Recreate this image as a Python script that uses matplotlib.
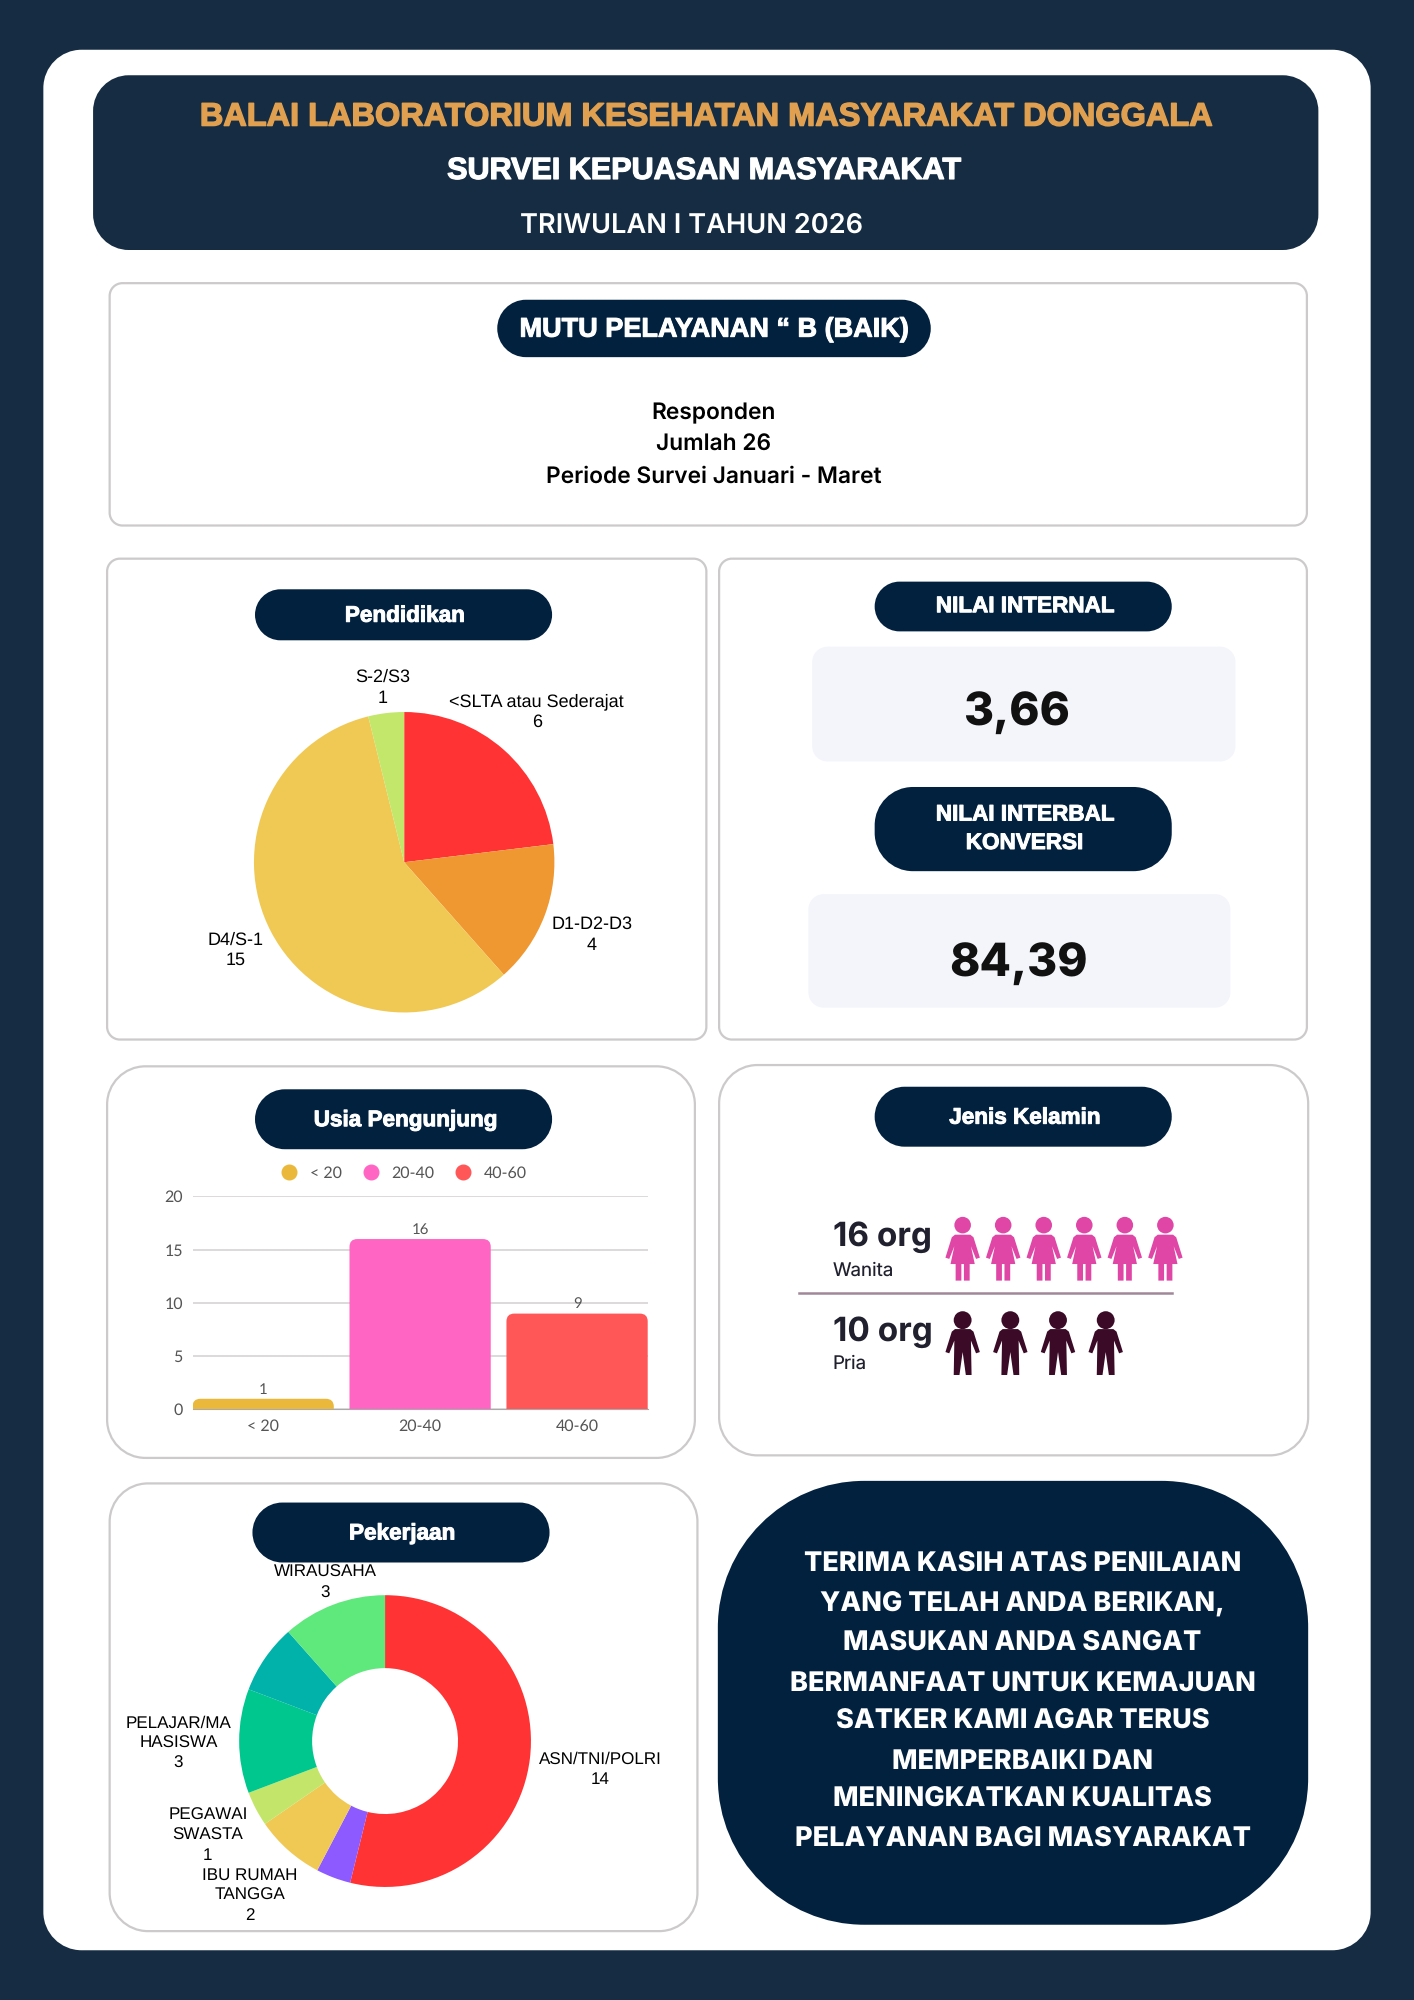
import matplotlib
matplotlib.use("Agg")
import matplotlib.pyplot as plt
import matplotlib.patheffects as pe
from matplotlib.patches import FancyBboxPatch, Circle, Polygon, PathPatch
from matplotlib.path import Path
from matplotlib.lines import Line2D

plt.rcParams["text.hinting"] = "no_hinting"
plt.rcParams["text.hinting_factor"] = 1

# data read from the infographic
pendidikan_labels = ["<SLTA atau Sederajat", "D1-D2-D3", "D4/S-1", "S-2/S3"]
pendidikan_values = [6, 4, 15, 1]
pendidikan_colors = ["#FF3333", "#EF9831", "#F0C955", "#C2E76A"]

usia_labels = ["< 20", "20-40", "40-60"]
usia_values = [1, 16, 9]
usia_colors = ["#EAB83A", "#FF66C4", "#FF5757"]
usia_ticks = [0, 5, 10, 15, 20]

pekerjaan_labels = ["ASN/TNI/POLRI", "", "IBU RUMAH\nTANGGA", "PEGAWAI\nSWASTA", "PELAJAR/MA\nHASISWA", "", "WIRAUSAHA"]
pekerjaan_values = [14, 1, 2, 1, 3, 2, 3]
pekerjaan_colors = ["#FF3333", "#8C5AFF", "#F0C955", "#C3E66A", "#00C78E", "#00B2A9", "#5FE87C"]

wanita_count = 16
pria_count = 10
wanita_icons = 6
pria_icons = 4

nilai_internal = "3,66"
nilai_konversi = "84,39"

penutup = ["TERIMA KASIH ATAS PENILAIAN", "YANG TELAH ANDA BERIKAN,", "MASUKAN ANDA SANGAT",
           "BERMANFAAT UNTUK KEMAJUAN", "SATKER KAMI AGAR TERUS", "MEMPERBAIKI DAN",
           "MENINGKATKAN KUALITAS", "PELAYANAN BAGI MASYARAKAT"]

NAVY = "#02213F"
BG = "#152C43"
GREY = "#CCCACA"
HEAD = "Liberation Sans"
LABEL = "Liberation Sans"
W, H = 1109, 1568  # layout units, scaled up to 1414x2000 on save

fig = plt.figure(figsize=(14.14, 20), dpi=100, facecolor=BG)
ax = fig.add_axes([0, 0, 1, 1])
ax.set_xlim(0, W)
ax.set_ylim(H, 0)
ax.axis("off")


def box(x0, y0, x1, y1, r, fc="white", ec="none", lw=1.6):
    # FancyBboxPatch corners look too square for the big radii, so use real arcs
    k = 0.5523 * r
    verts = [(x0 + r, y0), (x1 - r, y0), (x1 - r + k, y0), (x1, y0 + r - k), (x1, y0 + r),
             (x1, y1 - r), (x1, y1 - r + k), (x1 - r + k, y1), (x1 - r, y1),
             (x0 + r, y1), (x0 + r - k, y1), (x0, y1 - r + k), (x0, y1 - r),
             (x0, y0 + r), (x0, y0 + r - k), (x0 + r - k, y0), (x0 + r, y0), (x0 + r, y0)]
    codes = [Path.MOVETO, Path.LINETO, Path.CURVE4, Path.CURVE4, Path.CURVE4,
             Path.LINETO, Path.CURVE4, Path.CURVE4, Path.CURVE4,
             Path.LINETO, Path.CURVE4, Path.CURVE4, Path.CURVE4,
             Path.LINETO, Path.CURVE4, Path.CURVE4, Path.CURVE4, Path.CLOSEPOLY]
    ax.add_patch(PathPatch(Path(verts, codes), fc=fc, ec=ec, lw=lw))


def heavy(x, y, txt, size, color="white", stroke=0.7, **kw):
    t = ax.text(x, y, txt, color=color, fontsize=size, family=HEAD, weight="bold",
                ha="center", va="center", **kw)
    t.set_path_effects([pe.withStroke(linewidth=stroke, foreground=color)])
    return t


def pill(x0, y0, x1, y1, txt, size=16.2, dy=0):
    box(x0, y0, x1, y1, min((y1 - y0) / 2, 30), fc=NAVY)
    heavy((x0 + x1) / 2, (y0 + y1) / 2 + dy, txt, size, linespacing=1.5)


def sub_axes(x0, y0, x1, y1):
    return fig.add_axes([x0 / W, 1 - y1 / H, (x1 - x0) / W, (y1 - y0) / H])


def person(cx, top, color, woman):
    if woman:
        half = [(0, 14), (6, 14), (8.5, 16), (13.5, 32), (10.5, 33), (6.5, 23), (9.5, 37),
                (5.5, 37), (5.5, 50), (1, 50), (1, 37), (0, 37)]
        r = 6.5
    else:
        half = [(0, 14), (6, 14), (8.5, 16), (13.5, 32), (10.5, 33), (6.5, 23), (7, 50),
                (2.5, 50), (0, 32)]
        r = 7
    pts = [(cx + a, top + b) for a, b in half] + [(cx - a, top + b) for a, b in reversed(half)]
    ax.add_patch(Polygon(pts, closed=True, fc=color, ec="none"))
    ax.add_patch(Circle((cx, top + r), r, fc=color, ec="none"))


# page
box(34, 39, 1075, 1529, 30)

# header
box(73, 59, 1034, 196, 28, fc=BG)
heavy(548, 92, "BALAI LABORATORIUM KESEHATAN MASYARAKAT DONGGALA", 23.4, color="#E0A04F", stroke=1.0)
heavy(555, 134, "SURVEI KEPUASAN MASYARAKAT", 22, stroke=0.9)
ax.text(542, 177, "TRIWULAN I TAHUN 2026", color="white", fontsize=19.6, family="Inter",
        weight="semibold", ha="center", va="center")

# mutu pelayanan
box(86, 222, 1025, 412, 10, ec=GREY)
pill(390, 235, 730, 280, "MUTU PELAYANAN “ B (BAIK)", 19.5, dy=1)
for y, line in zip([324, 349, 374], ["Responden", "Jumlah 26", "Periode Survei Januari - Maret"]):
    ax.text(560, y, line, color="black", fontsize=16.4, family="Inter", weight="semibold", ha="center", va="center")

# pendidikan
box(84, 438, 554, 815, 10, ec=GREY)
pill(200, 462, 433, 502, "Pendidikan", dy=1)
ax_pie = sub_axes(198, 557, 436, 795)
ax_pie.pie(pendidikan_values, colors=pendidikan_colors, startangle=90, counterclock=False,
           radius=1, wedgeprops={"linewidth": 0})
ax_pie.set_xlim(-1.01, 1.01)
ax_pie.set_ylim(-1.01, 1.01)
for (x, y), name, val in zip([(421, 558), (464, 733), (185, 745), (300, 539)], pendidikan_labels, pendidikan_values):
    ax.text(x, y, f"{name}\n{val}", fontsize=12.9, family=LABEL, color="black",
            ha="center", va="center", linespacing=1.3)

# nilai
box(564, 438, 1025, 815, 10, ec=GREY)
pill(686, 456, 919, 495, "NILAI INTERNAL")
box(637, 507, 969, 597, 12, fc="#F4F5FA")
ax.text(797, 559, nilai_internal, fontsize=33, family="Inter", weight="extra bold", color="#111111", ha="center", va="center")
pill(686, 617, 919, 683, "NILAI INTERBAL\nKONVERSI")
box(634, 701, 965, 790, 12, fc="#F4F5FA")
ax.text(799, 756, nilai_konversi, fontsize=33, family="Inter", weight="extra bold", color="#111111", ha="center", va="center")

# usia
box(84, 836, 545, 1143, 30, ec=GREY)
pill(200, 854, 433, 901, "Usia Pengunjung", dy=1)
ax_bar = sub_axes(151, 938, 508, 1105)
ax_bar.patch.set_alpha(0)
x_pos = list(range(len(usia_values)))
ax_bar.set_xlim(-0.45, 2.45)
ax_bar.set_ylim(0, 20)
for x, v, c in zip(x_pos, usia_values, usia_colors):
    ax_bar.add_patch(FancyBboxPatch((x - 0.45 + 0.05, -1), 0.8, v + 1 - 0.735,
                                    boxstyle="round,pad=0.05,rounding_size=0.05",
                                    mutation_aspect=14.7, fc=c, ec="none", zorder=3))
    ax_bar.text(x, v + 0.25, str(v), fontsize=10.5, family="Lato", color="#555555", ha="center", va="bottom", zorder=4)
ax_bar.set_yticks(usia_ticks)
ax_bar.set_xticks(x_pos, usia_labels)
ax_bar.grid(axis="y", color="#D5D3D3", lw=1.2, zorder=0)
ax_bar.set_axisbelow(True)
ax_bar.tick_params(length=0, labelsize=11.5, labelcolor="#555555", pad=7)
for lab in ax_bar.get_xticklabels() + ax_bar.get_yticklabels():
    lab.set_family("Lato")
for name, s in ax_bar.spines.items():
    s.set_visible(name == "bottom")
ax_bar.spines["bottom"].set_color("#AAAAAA")
handles = [Line2D([], [], marker="o", ls="none", ms=10.5, color=c, label=l) for c, l in zip(usia_colors, usia_labels)]
ax_bar.legend(handles=handles, ncol=3, frameon=False, loc="lower center", bbox_to_anchor=(0.456, 1.075),
              handletextpad=0.3, columnspacing=0.8, prop={"family": "Lato", "size": 11.5}, labelcolor="#555555",
              borderaxespad=0, borderpad=0)

# jenis kelamin
box(564, 835, 1026, 1141, 30, ec=GREY)
pill(686, 852, 919, 899, "Jenis Kelamin", dy=1)
ax.text(653, 970, f"{wanita_count} org", fontsize=24, family="Inter", weight="bold", color="#20202E", va="center")
ax.text(653, 996, "Wanita", fontsize=13.5, family="Inter", color="#20202E", va="center")
ax.plot([627, 919], [1014, 1014], color="#A08898", lw=1.8)
ax.text(653, 1044, f"{pria_count} org", fontsize=24, family="Inter", weight="bold", color="#20202E", va="center")
ax.text(653, 1069, "Pria", fontsize=13.5, family="Inter", color="#20202E", va="center")
for cx in [755 + 31.8 * i for i in range(wanita_icons)]:
    person(cx, 954, "#E046A6", True)
for cx in [755 + 37.4 * i for i in range(pria_icons)]:
    person(cx, 1028, "#3A0A26", False)

# pekerjaan
box(86, 1163, 547, 1514, 30, ec=GREY)
pill(198, 1178, 431, 1225, "Pekerjaan", dy=1)
ax_don = sub_axes(187, 1250, 417, 1480)
ax_don.pie(pekerjaan_values, colors=pekerjaan_colors, startangle=90, counterclock=False, radius=1,
           wedgeprops={"width": 0.5, "linewidth": 0})
ax_don.set_xlim(-1.005, 1.005)
ax_don.set_ylim(-1.005, 1.005)
don_pos = [(471, 1387), None, (196, 1486), (163, 1439), (140, 1367), None, (255, 1241)]
for pos, name, val in zip(don_pos, pekerjaan_labels, pekerjaan_values):
    if pos is not None:
        ax.text(pos[0], pos[1], f"{name}\n{val}", fontsize=12.4, family=LABEL, color="black",
                ha="center", va="center", linespacing=1.35)

# closing note
box(563, 1161, 1026, 1509, 115, fc=NAVY)
for y, line in zip([1226, 1257, 1288, 1319, 1349, 1380, 1410, 1441], penutup):
    ax.text(802, y + 1, line, color="white", fontsize=19.5, family="Inter", weight="extra bold", ha="center", va="center")

fig.savefig("out.png", dpi=100, facecolor=BG)
